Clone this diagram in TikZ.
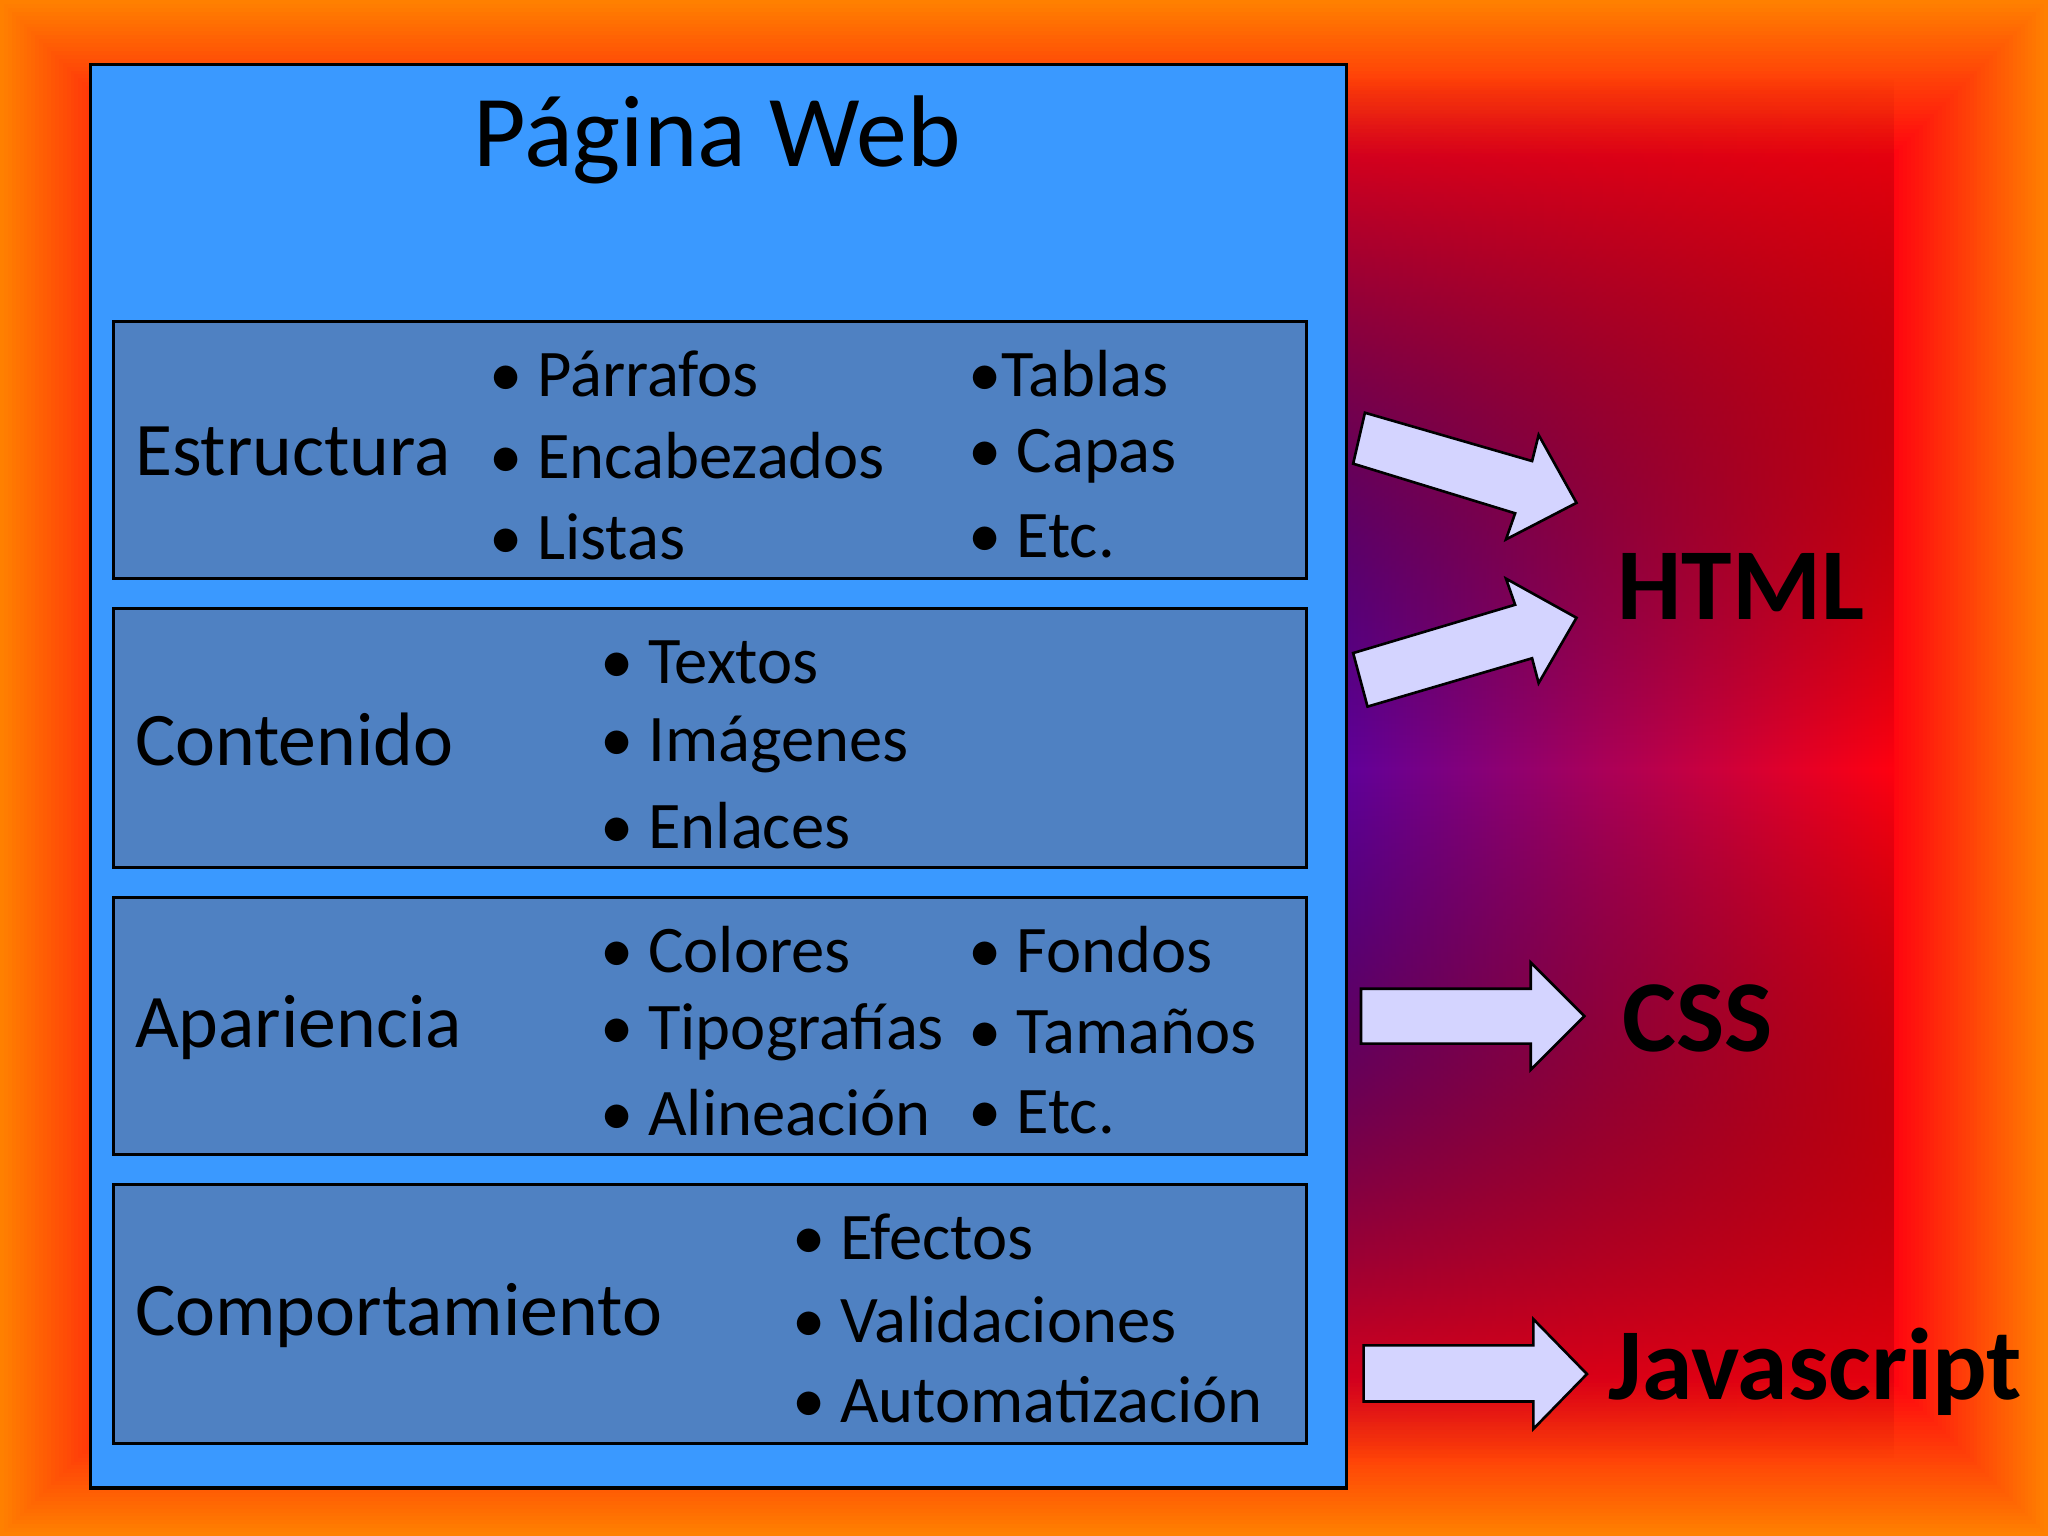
\documentclass[tikz,border=0pt]{standalone}
\usepackage{fontspec}
\setmainfont{Carlito}
\usetikzlibrary{fadings}
\definecolor{pageblue}{HTML}{3A99FF}
\definecolor{boxblue}{HTML}{4F81C2}
\definecolor{arrowfill}{HTML}{D4D4FF}
\definecolor{bgorange}{HTML}{FF8000}
\definecolor{bgred}{HTML}{FF0010}
\definecolor{bgpurple}{HTML}{60009A}
\tikzfading[name=vfade, top color=transparent!100, bottom color=transparent!100, middle color=transparent!0]
\tikzset{
  section/.style={draw=black, line width=1.2pt, fill=boxblue},
  lbl/.style={anchor=west, font=\fontsize{29}{34}\selectfont, inner sep=0},
  itm/.style={anchor=west, font=\fontsize{25.5}{30}\selectfont, inner sep=0},
  blockarrow/.style={draw=black, line width=1pt, fill=arrowfill, line join=miter},
  tech/.style={anchor=west, font=\fontsize{39}{44}\selectfont\bfseries, inner sep=0}
}
\begin{document}
\begin{tikzpicture}[x=0.5pt,y=-0.5pt]
\useasboundingbox (0,0) rectangle (1568,1176);
% background gradient frame
\foreach \i in {0,...,40}{
  \pgfmathsetmacro{\p}{100-\i*100/40}
  \fill[bgorange!\p!bgred] (\i*3,\i*3) rectangle (1568-\i*3,1176-\i*3);
}
\fill[left color=bgpurple, right color=bgred, path fading=vfade] (1030,60) rectangle (1450,1116);
% page
\node[draw=black, line width=1.2pt, fill=pageblue, minimum width=481pt, minimum height=545pt, anchor=north west, inner sep=0] (page) at (68,48) {};
\node[font=\fontsize{39}{44}\selectfont, inner sep=0] (title) at (549,107) {Página Web};
% sections
\node[section, minimum width=456.5pt, minimum height=98.5pt, anchor=north west, inner sep=0] (s1) at (86,245) {};
\node[section, minimum width=456.5pt, minimum height=99pt, anchor=north west, inner sep=0] (s2) at (86,465) {};
\node[section, minimum width=456.5pt, minimum height=98.5pt, anchor=north west, inner sep=0] (s3) at (86,686) {};
\node[section, minimum width=456.5pt, minimum height=99pt, anchor=north west, inner sep=0] (s4) at (86,906) {};
% labels
\node[lbl] (l1) at (103,346) {Estructura};
\node[lbl] (l2) at (103,566) {Contenido};
\node[lbl] (l3) at (103,787) {Apariencia};
\node[lbl] (l4) at (103,1007) {Comportamiento};
% items box 1
\node[itm] (a1) at (374,286) {•\ Párrafos};
\node[itm] (a2) at (374,349) {•\ Encabezados};
\node[itm] (a3) at (374,411) {•\ Listas};
\node[itm] (a4) at (741,286) {•Tablas};
\node[itm] (a5) at (741,349) {•\ Capas};
\node[itm] (a6) at (741,411) {•\ Etc.};
% box 2
\node[itm] (b1) at (459,507) {•\ Textos};
\node[itm] (b2) at (459,570) {•\ Imágenes};
\node[itm] (b3) at (459,632) {•\ Enlaces};
% box 3
\node[itm] (c1) at (459,727) {•\ Colores};
\node[itm] (c2) at (459,790) {•\ Tipografías};
\node[itm] (c3) at (459,852) {•\ Alineación};
\node[itm] (c4) at (741,727) {•\ Fondos};
\node[itm] (c5) at (741,790) {•\ Tamaños};
\node[itm] (c6) at (741,852) {•\ Etc.};
% box 4
\node[itm] (d1) at (606,947) {•\ Efectos};
\node[itm] (d2) at (606,1010) {•\ Validaciones};
\node[itm] (d3) at (606,1072) {•\ Automatización};
% arrows
\draw[blockarrow] (1045,316) -- (1173,353) -- (1178,333) -- (1207,385) -- (1153,413) -- (1160,393) -- (1036,355) -- cycle;
\draw[blockarrow] (1036,500) -- (1160,463) -- (1153,443) -- (1207,473) -- (1178,523) -- (1173,504) -- (1047,541) -- cycle;
\draw[blockarrow] (1042,757) -- (1172,757) -- (1172,737) -- (1213,778) -- (1172,819) -- (1172,799) -- (1042,799) -- cycle;
\draw[blockarrow] (1044,1030) -- (1174,1030) -- (1174,1010) -- (1215,1052) -- (1174,1094) -- (1174,1073) -- (1044,1073) -- cycle;
% tech labels
\node[tech] (html) at (1238,449) {HTML};
\node[tech] (css) at (1242,780) {CSS};
\node[tech] (js) at (1231,1050) {Javascript};
\end{tikzpicture}
\end{document}
